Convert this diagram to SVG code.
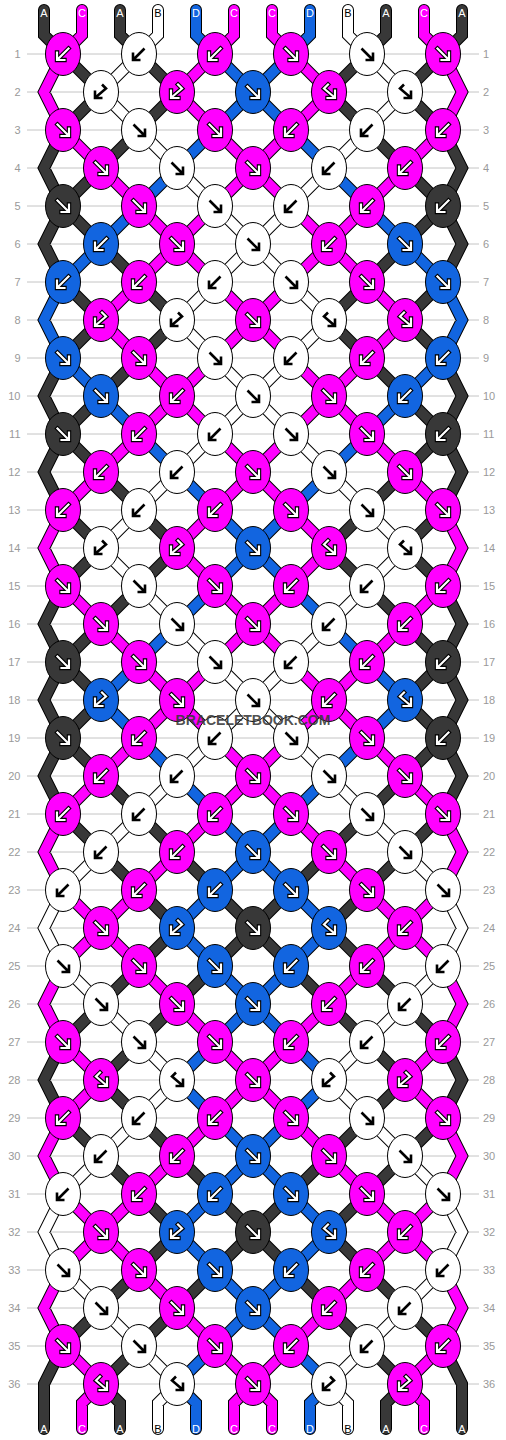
<svg xmlns="http://www.w3.org/2000/svg" xmlns:xlink="http://www.w3.org/1999/xlink" width="506" height="1440" viewBox="0 0 506 1440">
<style>
.so{fill:none;stroke:#000;stroke-width:12;stroke-linecap:round}
.sA,.sB,.sC,.sD{fill:none;stroke-width:10;stroke-linecap:round}
.sA{stroke:#383838}.sB{stroke:#fff}.sC{stroke:#f0f}.sD{stroke:#1265e0}
.A{fill:#383838}.B{fill:#fff}.C{fill:#f0f}.D{fill:#1265e0}
.ao{fill:none;stroke:#000;stroke-width:4.4;stroke-linecap:square}
.ai{fill:none;stroke:#fff;stroke-width:2.2;stroke-linecap:square}
.ab{fill:none;stroke:#000;stroke-width:2.6}
.gl{fill:none;stroke:#c4c4c4;stroke-width:1}
.nl{font:11px "Liberation Sans",Arial,sans-serif;fill:#999;text-anchor:end}
.nr{font:11px "Liberation Sans",Arial,sans-serif;fill:#999}
.lb{font:11px "Liberation Sans",Arial,sans-serif;text-anchor:middle;fill:#fff}
.lb.k{fill:#000}
.wm{font:bold 14px "Liberation Sans",Arial,sans-serif;fill:#3a3a3a;text-anchor:middle;fill-opacity:.9}
</style>
<defs>
<ellipse id="e" rx="17.5" ry="21.5" stroke="#000" stroke-width="1"/>
<path id="pF" d="M-5.5-5.5L5 5M-1.5 6H6V-1.5"/>
<path id="pB" d="M5.5-5.5L-5 5M1.5 6H-6V-1.5"/>
<path id="pFB" d="M-1-7.5L-5-3.5L5 5M-1.5 6H6V-1.5"/>
<path id="pBF" d="M1-7.5L5-3.5L-5 5M1.5 6H-6V-1.5"/>
<g id="aF"><use href="#pF" class="ao"/><use href="#pF" class="ai"/></g>
<g id="aB"><use href="#pB" class="ao"/><use href="#pB" class="ai"/></g>
<g id="aFB"><use href="#pFB" class="ao"/><use href="#pFB" class="ai"/></g>
<g id="aBF"><use href="#pBF" class="ao"/><use href="#pBF" class="ai"/></g>
<use id="bF" href="#pF" class="ab"/>
<use id="bB" href="#pB" class="ab"/>
<use id="bFB" href="#pFB" class="ab"/>
<use id="bBF" href="#pBF" class="ab"/>
<path id="sA" d="M44 10V35L63 54M120 10V35L139 54M386 10V35L367 54M462 10V35L443 54
M63 130L44 168L63 206L44 244L63 282M63 358L44 396L63 434L44 472L63 510M63 586L44 624L63 662L44 700L63 738L44 776L63 814M63 1042L44 1080L63 1118M63 1346L44 1384V1429
M443 130L462 168L443 206L462 244L443 282M443 358L462 396L443 434L462 472L443 510M443 586L462 624L443 662L462 700L443 738L462 776L443 814M443 1042L462 1080L443 1118M443 1346L462 1384V1429
M101 1384L120 1403V1429M405 1384L386 1403V1429
M63 54l38 38M139 54l38 38M367 54l-38 38M443 54l-38 38
M101 92l-38 38M177 92l-38 38M329 92l38 38M405 92l38 38
M139 130l-38 38M367 130l38 38
M101 168l-38 38M405 168l38 38
M63 206l38 38M443 206l-38 38
M101 244l38 38M405 244l-38 38
M63 282l38 38M139 282l38 38M367 282l-38 38M443 282l-38 38
M101 320l-38 38M177 320l-38 38M329 320l38 38M405 320l38 38
M139 358l-38 38M367 358l38 38
M101 396l-38 38M405 396l38 38
M63 434l38 38M443 434l-38 38
M101 472l38 38M405 472l-38 38
M63 510l38 38M139 510l38 38M367 510l-38 38M443 510l-38 38
M101 548l-38 38M177 548l-38 38M329 548l38 38M405 548l38 38
M139 586l-38 38M367 586l38 38
M101 624l-38 38M405 624l38 38
M63 662l38 38M443 662l-38 38
M101 700l-38 38M405 700l38 38
M63 738l38 38M443 738l-38 38
M101 776l38 38M405 776l-38 38
M63 814l38 38M139 814l38 38M367 814l-38 38M443 814l-38 38
M101 852l38 38M177 852l38 38M329 852l-38 38M405 852l-38 38
M139 890l38 38M215 890l38 38M291 890l-38 38M367 890l-38 38
M177 928l-38 38M253 928l-38 38M253 928l38 38M329 928l38 38
M139 966l-38 38M215 966l-38 38M291 966l38 38M367 966l38 38
M101 1004l-38 38M177 1004l-38 38M329 1004l38 38M405 1004l38 38
M139 1042l-38 38M367 1042l38 38
M101 1080l38 38M405 1080l-38 38
M63 1118l38 38M139 1118l38 38M367 1118l-38 38M443 1118l-38 38
M101 1156l38 38M177 1156l38 38M329 1156l-38 38M405 1156l-38 38
M139 1194l38 38M215 1194l38 38M291 1194l-38 38M367 1194l-38 38
M177 1232l-38 38M253 1232l-38 38M253 1232l38 38M329 1232l38 38
M139 1270l-38 38M215 1270l-38 38M291 1270l38 38M367 1270l38 38
M101 1308l-38 38M177 1308l-38 38M329 1308l38 38M405 1308l38 38
M139 1346l-38 38M367 1346l38 38"/>
<path id="sB" d="M158 10V35L139 54M348 10V35L367 54
M63 890L44 928L63 966M63 1194L44 1232L63 1270M443 890L462 928L443 966M443 1194L462 1232L443 1270
M177 1384L158 1403V1429M329 1384L348 1403V1429
M139 54l-38 38M367 54l38 38
M101 92l38 38M405 92l-38 38
M139 130l38 38M367 130l-38 38
M177 168l38 38M329 168l-38 38
M215 206l38 38M291 206l-38 38
M253 244l-38 38M253 244l38 38
M215 282l-38 38M291 282l38 38
M177 320l38 38M329 320l-38 38
M215 358l38 38M291 358l-38 38
M253 396l-38 38M253 396l38 38
M215 434l-38 38M291 434l38 38
M177 472l-38 38M329 472l38 38
M139 510l-38 38M367 510l38 38
M101 548l38 38M405 548l-38 38
M139 586l38 38M367 586l-38 38
M177 624l38 38M329 624l-38 38
M215 662l38 38M291 662l-38 38
M253 700l-38 38M253 700l38 38
M215 738l-38 38M291 738l38 38
M177 776l-38 38M329 776l38 38
M139 814l-38 38M367 814l38 38
M101 852l-38 38M405 852l38 38
M63 966l38 38M443 966l-38 38
M101 1004l38 38M405 1004l-38 38
M139 1042l38 38M367 1042l-38 38
M177 1080l-38 38M329 1080l38 38
M139 1118l-38 38M367 1118l38 38
M101 1156l-38 38M405 1156l38 38
M63 1270l38 38M443 1270l-38 38
M101 1308l38 38M405 1308l-38 38
M139 1346l38 38M367 1346l-38 38"/>
<path id="sC" d="M82 10V35L63 54M234 10V35L215 54M272 10V35L291 54M424 10V35L443 54
M63 54L44 92L63 130M63 510L44 548L63 586M63 814L44 852L63 890M63 966L44 1004L63 1042M63 1118L44 1156L63 1194M63 1270L44 1308L63 1346
M443 54L462 92L443 130M443 510L462 548L443 586M443 814L462 852L443 890M443 966L462 1004L443 1042M443 1118L462 1156L443 1194M443 1270L462 1308L443 1346
M101 1384L82 1403V1429M253 1384L234 1403V1429M253 1384L272 1403V1429M405 1384L424 1403V1429
M215 54l-38 38M291 54l38 38
M177 92l38 38M329 92l-38 38
M63 130l38 38M215 130l38 38M291 130l-38 38M443 130l-38 38
M101 168l38 38M253 168l-38 38M253 168l38 38M405 168l-38 38
M139 206l38 38M215 206l-38 38M291 206l38 38M367 206l-38 38
M177 244l-38 38M177 244l38 38M329 244l-38 38M329 244l38 38
M139 282l-38 38M215 282l38 38M291 282l-38 38M367 282l38 38
M101 320l38 38M253 320l-38 38M253 320l38 38M405 320l-38 38
M139 358l38 38M215 358l-38 38M291 358l38 38M367 358l-38 38
M177 396l-38 38M177 396l38 38M329 396l-38 38M329 396l38 38
M139 434l-38 38M215 434l38 38M291 434l-38 38M367 434l38 38
M101 472l-38 38M253 472l-38 38M253 472l38 38M405 472l38 38
M215 510l-38 38M291 510l38 38
M177 548l38 38M329 548l-38 38
M63 586l38 38M215 586l38 38M291 586l-38 38M443 586l-38 38
M101 624l38 38M253 624l-38 38M253 624l38 38M405 624l-38 38
M139 662l38 38M215 662l-38 38M291 662l38 38M367 662l-38 38
M177 700l-38 38M177 700l38 38M329 700l-38 38M329 700l38 38
M139 738l-38 38M215 738l38 38M291 738l-38 38M367 738l38 38
M101 776l-38 38M253 776l-38 38M253 776l38 38M405 776l38 38
M215 814l-38 38M291 814l38 38
M177 852l-38 38M329 852l38 38
M63 890l38 38M139 890l-38 38M367 890l38 38M443 890l-38 38
M101 928l-38 38M101 928l38 38M405 928l-38 38M405 928l38 38
M139 966l38 38M367 966l-38 38
M177 1004l38 38M329 1004l-38 38
M63 1042l38 38M215 1042l38 38M291 1042l-38 38M443 1042l-38 38
M101 1080l-38 38M253 1080l-38 38M253 1080l38 38M405 1080l38 38
M215 1118l-38 38M291 1118l38 38
M177 1156l-38 38M329 1156l38 38
M63 1194l38 38M139 1194l-38 38M367 1194l38 38M443 1194l-38 38
M101 1232l-38 38M101 1232l38 38M405 1232l-38 38M405 1232l38 38
M139 1270l38 38M367 1270l-38 38
M177 1308l38 38M329 1308l-38 38
M63 1346l38 38M215 1346l38 38M291 1346l-38 38M443 1346l-38 38"/>
<path id="sD" d="M196 10V35L215 54M310 10V35L291 54
M63 282L44 320L63 358M443 282L462 320L443 358
M177 1384L196 1403V1429M329 1384L310 1403V1429
M215 54l38 38M291 54l-38 38
M253 92l-38 38M253 92l38 38
M215 130l-38 38M291 130l38 38
M177 168l-38 38M329 168l38 38
M139 206l-38 38M367 206l38 38
M101 244l-38 38M405 244l38 38
M63 358l38 38M443 358l-38 38
M101 396l38 38M405 396l-38 38
M139 434l38 38M367 434l-38 38
M177 472l38 38M329 472l-38 38
M215 510l38 38M291 510l-38 38
M253 548l-38 38M253 548l38 38
M215 586l-38 38M291 586l38 38
M177 624l-38 38M329 624l38 38
M139 662l-38 38M367 662l38 38
M101 700l38 38M405 700l-38 38
M139 738l38 38M367 738l-38 38
M177 776l38 38M329 776l-38 38
M215 814l38 38M291 814l-38 38
M253 852l-38 38M253 852l38 38
M215 890l-38 38M291 890l38 38
M177 928l38 38M329 928l-38 38
M215 966l38 38M291 966l-38 38
M253 1004l-38 38M253 1004l38 38
M215 1042l-38 38M291 1042l38 38
M177 1080l38 38M329 1080l-38 38
M215 1118l38 38M291 1118l-38 38
M253 1156l-38 38M253 1156l38 38
M215 1194l-38 38M291 1194l38 38
M177 1232l38 38M329 1232l-38 38
M215 1270l38 38M291 1270l-38 38
M253 1308l-38 38M253 1308l38 38
M215 1346l-38 38M291 1346l38 38"/>
</defs>
<rect width="506" height="1440" fill="#fff"/>
<g id="grid">
<path class="gl" d="M27 54H479M27 92H479M27 130H479M27 168H479M27 206H479M27 244H479M27 282H479M27 320H479M27 358H479M27 396H479M27 434H479M27 472H479M27 510H479M27 548H479M27 586H479M27 624H479M27 662H479M27 700H479M27 738H479M27 776H479M27 814H479M27 852H479M27 890H479M27 928H479M27 966H479M27 1004H479M27 1042H479M27 1080H479M27 1118H479M27 1156H479M27 1194H479M27 1232H479M27 1270H479M27 1308H479M27 1346H479M27 1384H479"/>
<g class="nl">
<text x="20.5" y="58">1</text><text x="20.5" y="96">2</text><text x="20.5" y="134">3</text><text x="20.5" y="172">4</text><text x="20.5" y="210">5</text><text x="20.5" y="248">6</text><text x="20.5" y="286">7</text><text x="20.5" y="324">8</text><text x="20.5" y="362">9</text><text x="20.5" y="400">10</text><text x="20.5" y="438">11</text><text x="20.5" y="476">12</text><text x="20.5" y="514">13</text><text x="20.5" y="552">14</text><text x="20.5" y="590">15</text><text x="20.5" y="628">16</text><text x="20.5" y="666">17</text><text x="20.5" y="704">18</text><text x="20.5" y="742">19</text><text x="20.5" y="780">20</text><text x="20.5" y="818">21</text><text x="20.5" y="856">22</text><text x="20.5" y="894">23</text><text x="20.5" y="932">24</text><text x="20.5" y="970">25</text><text x="20.5" y="1008">26</text><text x="20.5" y="1046">27</text><text x="20.5" y="1084">28</text><text x="20.5" y="1122">29</text><text x="20.5" y="1160">30</text><text x="20.5" y="1198">31</text><text x="20.5" y="1236">32</text><text x="20.5" y="1274">33</text><text x="20.5" y="1312">34</text><text x="20.5" y="1350">35</text><text x="20.5" y="1388">36</text>
</g>
<g class="nr">
<text x="483" y="58">1</text><text x="483" y="96">2</text><text x="483" y="134">3</text><text x="483" y="172">4</text><text x="483" y="210">5</text><text x="483" y="248">6</text><text x="483" y="286">7</text><text x="483" y="324">8</text><text x="483" y="362">9</text><text x="483" y="400">10</text><text x="483" y="438">11</text><text x="483" y="476">12</text><text x="483" y="514">13</text><text x="483" y="552">14</text><text x="483" y="590">15</text><text x="483" y="628">16</text><text x="483" y="666">17</text><text x="483" y="704">18</text><text x="483" y="742">19</text><text x="483" y="780">20</text><text x="483" y="818">21</text><text x="483" y="856">22</text><text x="483" y="894">23</text><text x="483" y="932">24</text><text x="483" y="970">25</text><text x="483" y="1008">26</text><text x="483" y="1046">27</text><text x="483" y="1084">28</text><text x="483" y="1122">29</text><text x="483" y="1160">30</text><text x="483" y="1198">31</text><text x="483" y="1236">32</text><text x="483" y="1274">33</text><text x="483" y="1312">34</text><text x="483" y="1350">35</text><text x="483" y="1388">36</text>
</g>
</g>
<g id="connectors">
<use href="#sA" class="so"/><use href="#sB" class="so"/><use href="#sC" class="so"/><use href="#sD" class="so"/>
<use href="#sA" class="sA"/><use href="#sB" class="sB"/><use href="#sC" class="sC"/><use href="#sD" class="sD"/>
</g>
<g id="labels">
<text class="lb" x="44" y="16.5">A</text><text class="lb" x="82" y="16.5">C</text><text class="lb" x="120" y="16.5">A</text><text class="lb k" x="158" y="16.5">B</text><text class="lb" x="196" y="16.5">D</text><text class="lb" x="234" y="16.5">C</text><text class="lb" x="272" y="16.5">C</text><text class="lb" x="310" y="16.5">D</text><text class="lb k" x="348" y="16.5">B</text><text class="lb" x="386" y="16.5">A</text><text class="lb" x="424" y="16.5">C</text><text class="lb" x="462" y="16.5">A</text>
<text class="lb" x="44" y="1432.5">A</text><text class="lb" x="82" y="1432.5">C</text><text class="lb" x="120" y="1432.5">A</text><text class="lb k" x="158" y="1432.5">B</text><text class="lb" x="196" y="1432.5">D</text><text class="lb" x="234" y="1432.5">C</text><text class="lb" x="272" y="1432.5">C</text><text class="lb" x="310" y="1432.5">D</text><text class="lb k" x="348" y="1432.5">B</text><text class="lb" x="386" y="1432.5">A</text><text class="lb" x="424" y="1432.5">C</text><text class="lb" x="462" y="1432.5">A</text>
</g>
<g id="knots">
<g id="k1-1" class="C" transform="translate(63 54)"><use href="#e"/><use href="#aB"/></g>
<g id="k1-2" class="B" transform="translate(139 54)"><use href="#e"/><use href="#bB"/></g>
<g id="k1-3" class="C" transform="translate(215 54)"><use href="#e"/><use href="#aB"/></g>
<g id="k1-4" class="C" transform="translate(291 54)"><use href="#e"/><use href="#aF"/></g>
<g id="k1-5" class="B" transform="translate(367 54)"><use href="#e"/><use href="#bF"/></g>
<g id="k1-6" class="C" transform="translate(443 54)"><use href="#e"/><use href="#aF"/></g>
<g id="k2-1" class="B" transform="translate(101 92)"><use href="#e"/><use href="#bBF"/></g>
<g id="k2-2" class="C" transform="translate(177 92)"><use href="#e"/><use href="#aBF"/></g>
<g id="k2-3" class="D" transform="translate(253 92)"><use href="#e"/><use href="#aF"/></g>
<g id="k2-4" class="C" transform="translate(329 92)"><use href="#e"/><use href="#aFB"/></g>
<g id="k2-5" class="B" transform="translate(405 92)"><use href="#e"/><use href="#bFB"/></g>
<g id="k3-1" class="C" transform="translate(63 130)"><use href="#e"/><use href="#aF"/></g>
<g id="k3-2" class="B" transform="translate(139 130)"><use href="#e"/><use href="#bF"/></g>
<g id="k3-3" class="C" transform="translate(215 130)"><use href="#e"/><use href="#aF"/></g>
<g id="k3-4" class="C" transform="translate(291 130)"><use href="#e"/><use href="#aB"/></g>
<g id="k3-5" class="B" transform="translate(367 130)"><use href="#e"/><use href="#bB"/></g>
<g id="k3-6" class="C" transform="translate(443 130)"><use href="#e"/><use href="#aB"/></g>
<g id="k4-1" class="C" transform="translate(101 168)"><use href="#e"/><use href="#aF"/></g>
<g id="k4-2" class="B" transform="translate(177 168)"><use href="#e"/><use href="#bF"/></g>
<g id="k4-3" class="C" transform="translate(253 168)"><use href="#e"/><use href="#aF"/></g>
<g id="k4-4" class="B" transform="translate(329 168)"><use href="#e"/><use href="#bB"/></g>
<g id="k4-5" class="C" transform="translate(405 168)"><use href="#e"/><use href="#aB"/></g>
<g id="k5-1" class="A" transform="translate(63 206)"><use href="#e"/><use href="#aF"/></g>
<g id="k5-2" class="C" transform="translate(139 206)"><use href="#e"/><use href="#aF"/></g>
<g id="k5-3" class="B" transform="translate(215 206)"><use href="#e"/><use href="#bF"/></g>
<g id="k5-4" class="B" transform="translate(291 206)"><use href="#e"/><use href="#bB"/></g>
<g id="k5-5" class="C" transform="translate(367 206)"><use href="#e"/><use href="#aB"/></g>
<g id="k5-6" class="A" transform="translate(443 206)"><use href="#e"/><use href="#aB"/></g>
<g id="k6-1" class="D" transform="translate(101 244)"><use href="#e"/><use href="#aB"/></g>
<g id="k6-2" class="C" transform="translate(177 244)"><use href="#e"/><use href="#aF"/></g>
<g id="k6-3" class="B" transform="translate(253 244)"><use href="#e"/><use href="#bF"/></g>
<g id="k6-4" class="C" transform="translate(329 244)"><use href="#e"/><use href="#aB"/></g>
<g id="k6-5" class="D" transform="translate(405 244)"><use href="#e"/><use href="#aF"/></g>
<g id="k7-1" class="D" transform="translate(63 282)"><use href="#e"/><use href="#aB"/></g>
<g id="k7-2" class="C" transform="translate(139 282)"><use href="#e"/><use href="#aB"/></g>
<g id="k7-3" class="B" transform="translate(215 282)"><use href="#e"/><use href="#bB"/></g>
<g id="k7-4" class="B" transform="translate(291 282)"><use href="#e"/><use href="#bF"/></g>
<g id="k7-5" class="C" transform="translate(367 282)"><use href="#e"/><use href="#aF"/></g>
<g id="k7-6" class="D" transform="translate(443 282)"><use href="#e"/><use href="#aF"/></g>
<g id="k8-1" class="C" transform="translate(101 320)"><use href="#e"/><use href="#aBF"/></g>
<g id="k8-2" class="B" transform="translate(177 320)"><use href="#e"/><use href="#bBF"/></g>
<g id="k8-3" class="C" transform="translate(253 320)"><use href="#e"/><use href="#aF"/></g>
<g id="k8-4" class="B" transform="translate(329 320)"><use href="#e"/><use href="#bFB"/></g>
<g id="k8-5" class="C" transform="translate(405 320)"><use href="#e"/><use href="#aFB"/></g>
<g id="k9-1" class="D" transform="translate(63 358)"><use href="#e"/><use href="#aF"/></g>
<g id="k9-2" class="C" transform="translate(139 358)"><use href="#e"/><use href="#aF"/></g>
<g id="k9-3" class="B" transform="translate(215 358)"><use href="#e"/><use href="#bF"/></g>
<g id="k9-4" class="B" transform="translate(291 358)"><use href="#e"/><use href="#bB"/></g>
<g id="k9-5" class="C" transform="translate(367 358)"><use href="#e"/><use href="#aB"/></g>
<g id="k9-6" class="D" transform="translate(443 358)"><use href="#e"/><use href="#aB"/></g>
<g id="k10-1" class="D" transform="translate(101 396)"><use href="#e"/><use href="#aF"/></g>
<g id="k10-2" class="C" transform="translate(177 396)"><use href="#e"/><use href="#aB"/></g>
<g id="k10-3" class="B" transform="translate(253 396)"><use href="#e"/><use href="#bF"/></g>
<g id="k10-4" class="C" transform="translate(329 396)"><use href="#e"/><use href="#aF"/></g>
<g id="k10-5" class="D" transform="translate(405 396)"><use href="#e"/><use href="#aB"/></g>
<g id="k11-1" class="A" transform="translate(63 434)"><use href="#e"/><use href="#aF"/></g>
<g id="k11-2" class="C" transform="translate(139 434)"><use href="#e"/><use href="#aB"/></g>
<g id="k11-3" class="B" transform="translate(215 434)"><use href="#e"/><use href="#bB"/></g>
<g id="k11-4" class="B" transform="translate(291 434)"><use href="#e"/><use href="#bF"/></g>
<g id="k11-5" class="C" transform="translate(367 434)"><use href="#e"/><use href="#aF"/></g>
<g id="k11-6" class="A" transform="translate(443 434)"><use href="#e"/><use href="#aB"/></g>
<g id="k12-1" class="C" transform="translate(101 472)"><use href="#e"/><use href="#aB"/></g>
<g id="k12-2" class="B" transform="translate(177 472)"><use href="#e"/><use href="#bB"/></g>
<g id="k12-3" class="C" transform="translate(253 472)"><use href="#e"/><use href="#aF"/></g>
<g id="k12-4" class="B" transform="translate(329 472)"><use href="#e"/><use href="#bF"/></g>
<g id="k12-5" class="C" transform="translate(405 472)"><use href="#e"/><use href="#aF"/></g>
<g id="k13-1" class="C" transform="translate(63 510)"><use href="#e"/><use href="#aB"/></g>
<g id="k13-2" class="B" transform="translate(139 510)"><use href="#e"/><use href="#bB"/></g>
<g id="k13-3" class="C" transform="translate(215 510)"><use href="#e"/><use href="#aB"/></g>
<g id="k13-4" class="C" transform="translate(291 510)"><use href="#e"/><use href="#aF"/></g>
<g id="k13-5" class="B" transform="translate(367 510)"><use href="#e"/><use href="#bF"/></g>
<g id="k13-6" class="C" transform="translate(443 510)"><use href="#e"/><use href="#aF"/></g>
<g id="k14-1" class="B" transform="translate(101 548)"><use href="#e"/><use href="#bBF"/></g>
<g id="k14-2" class="C" transform="translate(177 548)"><use href="#e"/><use href="#aBF"/></g>
<g id="k14-3" class="D" transform="translate(253 548)"><use href="#e"/><use href="#aF"/></g>
<g id="k14-4" class="C" transform="translate(329 548)"><use href="#e"/><use href="#aFB"/></g>
<g id="k14-5" class="B" transform="translate(405 548)"><use href="#e"/><use href="#bFB"/></g>
<g id="k15-1" class="C" transform="translate(63 586)"><use href="#e"/><use href="#aF"/></g>
<g id="k15-2" class="B" transform="translate(139 586)"><use href="#e"/><use href="#bF"/></g>
<g id="k15-3" class="C" transform="translate(215 586)"><use href="#e"/><use href="#aF"/></g>
<g id="k15-4" class="C" transform="translate(291 586)"><use href="#e"/><use href="#aB"/></g>
<g id="k15-5" class="B" transform="translate(367 586)"><use href="#e"/><use href="#bB"/></g>
<g id="k15-6" class="C" transform="translate(443 586)"><use href="#e"/><use href="#aB"/></g>
<g id="k16-1" class="C" transform="translate(101 624)"><use href="#e"/><use href="#aF"/></g>
<g id="k16-2" class="B" transform="translate(177 624)"><use href="#e"/><use href="#bF"/></g>
<g id="k16-3" class="C" transform="translate(253 624)"><use href="#e"/><use href="#aF"/></g>
<g id="k16-4" class="B" transform="translate(329 624)"><use href="#e"/><use href="#bB"/></g>
<g id="k16-5" class="C" transform="translate(405 624)"><use href="#e"/><use href="#aB"/></g>
<g id="k17-1" class="A" transform="translate(63 662)"><use href="#e"/><use href="#aF"/></g>
<g id="k17-2" class="C" transform="translate(139 662)"><use href="#e"/><use href="#aF"/></g>
<g id="k17-3" class="B" transform="translate(215 662)"><use href="#e"/><use href="#bF"/></g>
<g id="k17-4" class="B" transform="translate(291 662)"><use href="#e"/><use href="#bB"/></g>
<g id="k17-5" class="C" transform="translate(367 662)"><use href="#e"/><use href="#aB"/></g>
<g id="k17-6" class="A" transform="translate(443 662)"><use href="#e"/><use href="#aB"/></g>
<g id="k18-1" class="D" transform="translate(101 700)"><use href="#e"/><use href="#aBF"/></g>
<g id="k18-2" class="C" transform="translate(177 700)"><use href="#e"/><use href="#aF"/></g>
<g id="k18-3" class="B" transform="translate(253 700)"><use href="#e"/><use href="#bF"/></g>
<g id="k18-4" class="C" transform="translate(329 700)"><use href="#e"/><use href="#aB"/></g>
<g id="k18-5" class="D" transform="translate(405 700)"><use href="#e"/><use href="#aFB"/></g>
<g id="k19-1" class="A" transform="translate(63 738)"><use href="#e"/><use href="#aF"/></g>
<g id="k19-2" class="C" transform="translate(139 738)"><use href="#e"/><use href="#aB"/></g>
<g id="k19-3" class="B" transform="translate(215 738)"><use href="#e"/><use href="#bB"/></g>
<g id="k19-4" class="B" transform="translate(291 738)"><use href="#e"/><use href="#bF"/></g>
<g id="k19-5" class="C" transform="translate(367 738)"><use href="#e"/><use href="#aF"/></g>
<g id="k19-6" class="A" transform="translate(443 738)"><use href="#e"/><use href="#aB"/></g>
<g id="k20-1" class="C" transform="translate(101 776)"><use href="#e"/><use href="#aB"/></g>
<g id="k20-2" class="B" transform="translate(177 776)"><use href="#e"/><use href="#bB"/></g>
<g id="k20-3" class="C" transform="translate(253 776)"><use href="#e"/><use href="#aF"/></g>
<g id="k20-4" class="B" transform="translate(329 776)"><use href="#e"/><use href="#bF"/></g>
<g id="k20-5" class="C" transform="translate(405 776)"><use href="#e"/><use href="#aF"/></g>
<g id="k21-1" class="C" transform="translate(63 814)"><use href="#e"/><use href="#aB"/></g>
<g id="k21-2" class="B" transform="translate(139 814)"><use href="#e"/><use href="#bB"/></g>
<g id="k21-3" class="C" transform="translate(215 814)"><use href="#e"/><use href="#aB"/></g>
<g id="k21-4" class="C" transform="translate(291 814)"><use href="#e"/><use href="#aF"/></g>
<g id="k21-5" class="B" transform="translate(367 814)"><use href="#e"/><use href="#bF"/></g>
<g id="k21-6" class="C" transform="translate(443 814)"><use href="#e"/><use href="#aF"/></g>
<g id="k22-1" class="B" transform="translate(101 852)"><use href="#e"/><use href="#bB"/></g>
<g id="k22-2" class="C" transform="translate(177 852)"><use href="#e"/><use href="#aB"/></g>
<g id="k22-3" class="D" transform="translate(253 852)"><use href="#e"/><use href="#aF"/></g>
<g id="k22-4" class="C" transform="translate(329 852)"><use href="#e"/><use href="#aF"/></g>
<g id="k22-5" class="B" transform="translate(405 852)"><use href="#e"/><use href="#bF"/></g>
<g id="k23-1" class="B" transform="translate(63 890)"><use href="#e"/><use href="#bB"/></g>
<g id="k23-2" class="C" transform="translate(139 890)"><use href="#e"/><use href="#aB"/></g>
<g id="k23-3" class="D" transform="translate(215 890)"><use href="#e"/><use href="#aB"/></g>
<g id="k23-4" class="D" transform="translate(291 890)"><use href="#e"/><use href="#aF"/></g>
<g id="k23-5" class="C" transform="translate(367 890)"><use href="#e"/><use href="#aF"/></g>
<g id="k23-6" class="B" transform="translate(443 890)"><use href="#e"/><use href="#bF"/></g>
<g id="k24-1" class="C" transform="translate(101 928)"><use href="#e"/><use href="#aF"/></g>
<g id="k24-2" class="D" transform="translate(177 928)"><use href="#e"/><use href="#aBF"/></g>
<g id="k24-3" class="A" transform="translate(253 928)"><use href="#e"/><use href="#aF"/></g>
<g id="k24-4" class="D" transform="translate(329 928)"><use href="#e"/><use href="#aFB"/></g>
<g id="k24-5" class="C" transform="translate(405 928)"><use href="#e"/><use href="#aB"/></g>
<g id="k25-1" class="B" transform="translate(63 966)"><use href="#e"/><use href="#bF"/></g>
<g id="k25-2" class="C" transform="translate(139 966)"><use href="#e"/><use href="#aF"/></g>
<g id="k25-3" class="D" transform="translate(215 966)"><use href="#e"/><use href="#aF"/></g>
<g id="k25-4" class="D" transform="translate(291 966)"><use href="#e"/><use href="#aB"/></g>
<g id="k25-5" class="C" transform="translate(367 966)"><use href="#e"/><use href="#aB"/></g>
<g id="k25-6" class="B" transform="translate(443 966)"><use href="#e"/><use href="#bB"/></g>
<g id="k26-1" class="B" transform="translate(101 1004)"><use href="#e"/><use href="#bF"/></g>
<g id="k26-2" class="C" transform="translate(177 1004)"><use href="#e"/><use href="#aF"/></g>
<g id="k26-3" class="D" transform="translate(253 1004)"><use href="#e"/><use href="#aF"/></g>
<g id="k26-4" class="C" transform="translate(329 1004)"><use href="#e"/><use href="#aB"/></g>
<g id="k26-5" class="B" transform="translate(405 1004)"><use href="#e"/><use href="#bB"/></g>
<g id="k27-1" class="C" transform="translate(63 1042)"><use href="#e"/><use href="#aF"/></g>
<g id="k27-2" class="B" transform="translate(139 1042)"><use href="#e"/><use href="#bF"/></g>
<g id="k27-3" class="C" transform="translate(215 1042)"><use href="#e"/><use href="#aF"/></g>
<g id="k27-4" class="C" transform="translate(291 1042)"><use href="#e"/><use href="#aB"/></g>
<g id="k27-5" class="B" transform="translate(367 1042)"><use href="#e"/><use href="#bB"/></g>
<g id="k27-6" class="C" transform="translate(443 1042)"><use href="#e"/><use href="#aB"/></g>
<g id="k28-1" class="C" transform="translate(101 1080)"><use href="#e"/><use href="#aFB"/></g>
<g id="k28-2" class="B" transform="translate(177 1080)"><use href="#e"/><use href="#bFB"/></g>
<g id="k28-3" class="C" transform="translate(253 1080)"><use href="#e"/><use href="#aF"/></g>
<g id="k28-4" class="B" transform="translate(329 1080)"><use href="#e"/><use href="#bBF"/></g>
<g id="k28-5" class="C" transform="translate(405 1080)"><use href="#e"/><use href="#aBF"/></g>
<g id="k29-1" class="C" transform="translate(63 1118)"><use href="#e"/><use href="#aB"/></g>
<g id="k29-2" class="B" transform="translate(139 1118)"><use href="#e"/><use href="#bB"/></g>
<g id="k29-3" class="C" transform="translate(215 1118)"><use href="#e"/><use href="#aB"/></g>
<g id="k29-4" class="C" transform="translate(291 1118)"><use href="#e"/><use href="#aF"/></g>
<g id="k29-5" class="B" transform="translate(367 1118)"><use href="#e"/><use href="#bF"/></g>
<g id="k29-6" class="C" transform="translate(443 1118)"><use href="#e"/><use href="#aF"/></g>
<g id="k30-1" class="B" transform="translate(101 1156)"><use href="#e"/><use href="#bB"/></g>
<g id="k30-2" class="C" transform="translate(177 1156)"><use href="#e"/><use href="#aB"/></g>
<g id="k30-3" class="D" transform="translate(253 1156)"><use href="#e"/><use href="#aF"/></g>
<g id="k30-4" class="C" transform="translate(329 1156)"><use href="#e"/><use href="#aF"/></g>
<g id="k30-5" class="B" transform="translate(405 1156)"><use href="#e"/><use href="#bF"/></g>
<g id="k31-1" class="B" transform="translate(63 1194)"><use href="#e"/><use href="#bB"/></g>
<g id="k31-2" class="C" transform="translate(139 1194)"><use href="#e"/><use href="#aB"/></g>
<g id="k31-3" class="D" transform="translate(215 1194)"><use href="#e"/><use href="#aB"/></g>
<g id="k31-4" class="D" transform="translate(291 1194)"><use href="#e"/><use href="#aF"/></g>
<g id="k31-5" class="C" transform="translate(367 1194)"><use href="#e"/><use href="#aF"/></g>
<g id="k31-6" class="B" transform="translate(443 1194)"><use href="#e"/><use href="#bF"/></g>
<g id="k32-1" class="C" transform="translate(101 1232)"><use href="#e"/><use href="#aF"/></g>
<g id="k32-2" class="D" transform="translate(177 1232)"><use href="#e"/><use href="#aBF"/></g>
<g id="k32-3" class="A" transform="translate(253 1232)"><use href="#e"/><use href="#aF"/></g>
<g id="k32-4" class="D" transform="translate(329 1232)"><use href="#e"/><use href="#aFB"/></g>
<g id="k32-5" class="C" transform="translate(405 1232)"><use href="#e"/><use href="#aB"/></g>
<g id="k33-1" class="B" transform="translate(63 1270)"><use href="#e"/><use href="#bF"/></g>
<g id="k33-2" class="C" transform="translate(139 1270)"><use href="#e"/><use href="#aF"/></g>
<g id="k33-3" class="D" transform="translate(215 1270)"><use href="#e"/><use href="#aF"/></g>
<g id="k33-4" class="D" transform="translate(291 1270)"><use href="#e"/><use href="#aB"/></g>
<g id="k33-5" class="C" transform="translate(367 1270)"><use href="#e"/><use href="#aB"/></g>
<g id="k33-6" class="B" transform="translate(443 1270)"><use href="#e"/><use href="#bB"/></g>
<g id="k34-1" class="B" transform="translate(101 1308)"><use href="#e"/><use href="#bF"/></g>
<g id="k34-2" class="C" transform="translate(177 1308)"><use href="#e"/><use href="#aF"/></g>
<g id="k34-3" class="D" transform="translate(253 1308)"><use href="#e"/><use href="#aF"/></g>
<g id="k34-4" class="C" transform="translate(329 1308)"><use href="#e"/><use href="#aB"/></g>
<g id="k34-5" class="B" transform="translate(405 1308)"><use href="#e"/><use href="#bB"/></g>
<g id="k35-1" class="C" transform="translate(63 1346)"><use href="#e"/><use href="#aF"/></g>
<g id="k35-2" class="B" transform="translate(139 1346)"><use href="#e"/><use href="#bF"/></g>
<g id="k35-3" class="C" transform="translate(215 1346)"><use href="#e"/><use href="#aF"/></g>
<g id="k35-4" class="C" transform="translate(291 1346)"><use href="#e"/><use href="#aB"/></g>
<g id="k35-5" class="B" transform="translate(367 1346)"><use href="#e"/><use href="#bB"/></g>
<g id="k35-6" class="C" transform="translate(443 1346)"><use href="#e"/><use href="#aB"/></g>
<g id="k36-1" class="C" transform="translate(101 1384)"><use href="#e"/><use href="#aFB"/></g>
<g id="k36-2" class="B" transform="translate(177 1384)"><use href="#e"/><use href="#bFB"/></g>
<g id="k36-3" class="C" transform="translate(253 1384)"><use href="#e"/><use href="#aF"/></g>
<g id="k36-4" class="B" transform="translate(329 1384)"><use href="#e"/><use href="#bBF"/></g>
<g id="k36-5" class="C" transform="translate(405 1384)"><use href="#e"/><use href="#aBF"/></g>
</g>
<text class="wm" x="253" y="725">BRACELETBOOK.COM</text>
</svg>
